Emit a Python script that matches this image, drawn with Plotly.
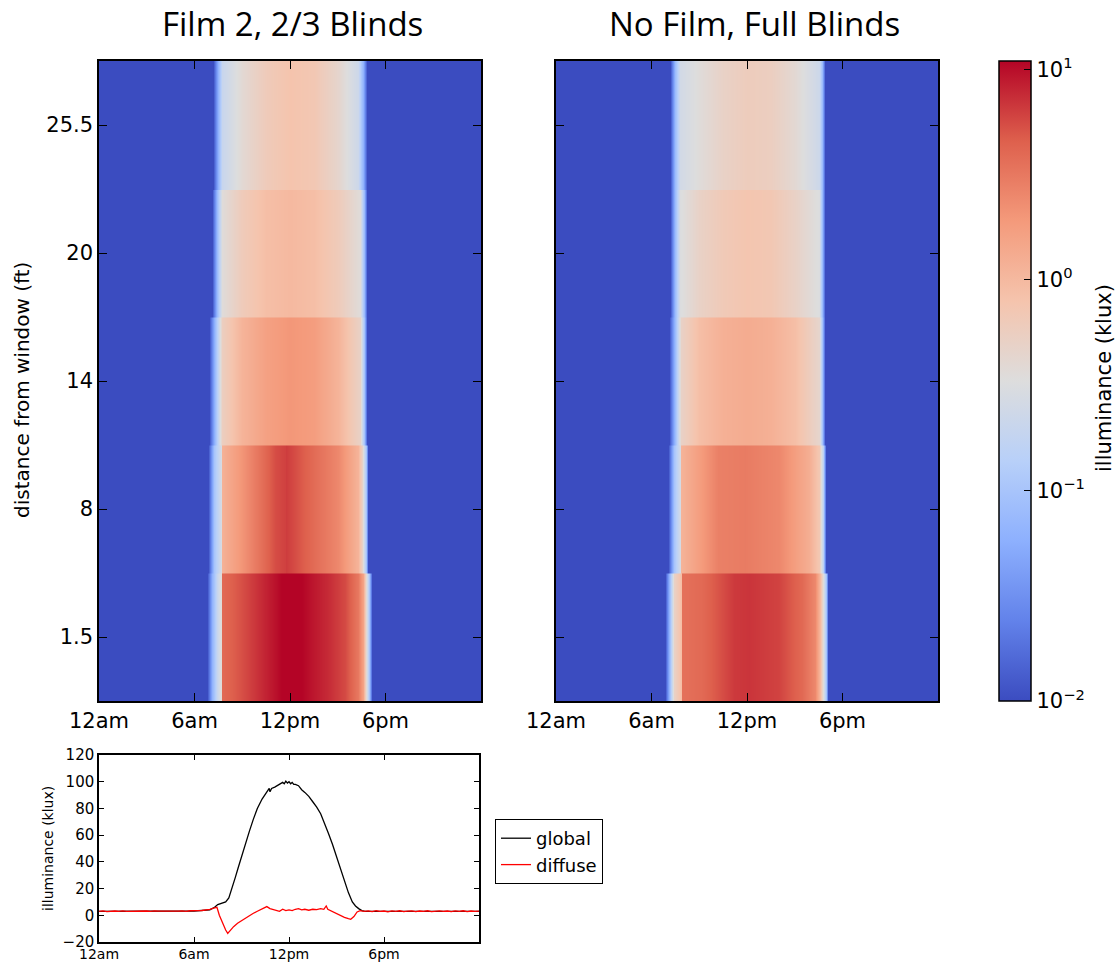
import plotly.graph_objects as go

# ---------------- data ----------------
hour_ticks = [0, 6, 12, 18]
hour_labels = ["12am", "6am", "12pm", "6pm"]
distance_labels = ["1.5", "8", "14", "20", "25.5"]   # bottom -> top

# heatmap rows: time (h) and log10(illuminance in klux)
film_r1_t = [0, 6.76, 7.1, 7.4, 7.66, 7.7, 8.55, 10.2, 11.2, 11.9, 12.6, 13.4, 14.4, 15.45, 16.3, 16.6, 16.8, 16.95, 17.13, 24]
film_r1_v = [-2, -2, -1.2, -0.7, -0.45, 0.6, 0.68, 0.88, 1.0, 1.1, 1.05, 0.97, 0.88, 0.75, 0.5, 0.2, -0.4, -1.0, -2, -2]
film_r2_t = [0, 6.83, 7.2, 7.66, 7.7, 9.2, 11.05, 11.715, 11.73, 11.745, 13.4, 15.0, 16.3, 16.55, 16.75, 16.92, 24]
film_r2_v = [-2, -2, -1.0, -0.55, 0.07, 0.35, 0.74, 0.79, 0.86, 0.81, 0.6, 0.4, 0.05, -0.3, -1.0, -2, -2]
film_r3_t = [0, 6.9, 7.3, 7.7, 9.0, 10.5, 12.0, 13.5, 15.0, 16.4, 16.65, 16.85, 24]
film_r3_v = [-2, -2, -1.1, -0.25, 0.05, 0.22, 0.3, 0.25, 0.05, -0.3, -1.0, -2, -2]
film_r4_t = [0, 7.07, 7.4, 7.7, 9.0, 10.5, 12.0, 13.5, 15.0, 16.4, 16.65, 16.85, 24]
film_r4_v = [-2, -2, -1.1, -0.45, -0.2, -0.05, 0.0, -0.05, -0.2, -0.45, -1.1, -2, -2]
film_r5_t = [0, 7.18, 7.45, 7.7, 9.0, 10.5, 12.0, 13.5, 15.0, 16.3, 16.6, 16.85, 24]
film_r5_v = [-2, -2, -1.2, -0.7, -0.4, -0.2, -0.1, -0.15, -0.35, -0.65, -1.2, -2, -2]

nofilm_r1_t = [0, 6.86, 7.1, 7.4, 7.85, 7.9, 9.15, 11.2, 12.1, 14.0, 15.45, 16.3, 16.6, 16.8, 16.95, 17.1, 24]
nofilm_r1_v = [-2, -2, -1.2, -0.3, -0.05, 0.55, 0.6, 0.82, 0.84, 0.78, 0.6, 0.4, 0.0, -0.45, -1.0, -2, -2]
nofilm_r2_t = [0, 7.05, 7.4, 7.83, 7.87, 10.2, 11.9, 14.0, 15.9, 16.5, 16.75, 16.96, 24]
nofilm_r2_v = [-2, -2, -1.0, -0.5, 0.05, 0.45, 0.48, 0.4, 0.1, -0.15, -0.8, -2, -2]
nofilm_r3_t = [0, 7.08, 7.45, 7.85, 9.0, 10.5, 12.0, 13.5, 15.0, 16.5, 16.7, 16.9, 24]
nofilm_r3_v = [-2, -2, -1.1, -0.3, -0.05, 0.08, 0.12, 0.08, -0.05, -0.35, -1.0, -2, -2]
nofilm_r4_t = [0, 7.18, 7.5, 7.8, 9.0, 10.5, 12.0, 13.5, 15.0, 16.5, 16.7, 16.9, 24]
nofilm_r4_v = [-2, -2, -1.1, -0.5, -0.3, -0.18, -0.12, -0.15, -0.3, -0.5, -1.1, -2, -2]
nofilm_r5_t = [0, 7.18, 7.5, 7.8, 9.0, 10.5, 12.0, 13.5, 15.0, 16.5, 16.7, 16.9, 24]
nofilm_r5_v = [-2, -2, -1.1, -0.6, -0.45, -0.3, -0.22, -0.25, -0.4, -0.65, -1.1, -2, -2]

# outdoor illuminance (klux)
global_t = [0, 1, 2, 3, 4, 5, 6, 7, 7.3, 7.5, 7.7, 8.0, 8.2, 8.4, 8.6, 8.8, 9.0, 9.25, 9.5, 9.75,
            10.0, 10.3, 10.5, 10.7, 10.75, 10.8, 10.9, 11.1, 11.35, 11.5, 11.6, 11.7, 11.8, 11.9,
            12.0, 12.1, 12.2, 12.3, 12.4, 12.6, 12.8,
            13.0, 13.25, 13.5, 13.75, 14.0, 14.25, 14.5, 14.75, 15.0, 15.25, 15.5, 15.75, 16.0, 16.2,
            16.4, 16.6, 16.8, 17, 18, 19, 20, 21, 22, 23, 24]
global_v = [3, 3, 3, 3, 3, 3, 3.2, 4, 6, 8, 9, 10, 13, 20, 28, 36, 44, 54, 63, 72,
            80, 87, 91, 94, 95, 92.5, 95, 96, 97.5, 98.5, 99.5, 98.5, 100.5, 99,
            100, 98.5, 99.5, 98, 98, 97, 94,
            92, 89, 85, 81, 76, 69, 61, 53, 44, 35, 26, 17, 10, 7,
            5, 3.5, 3, 3, 3, 3, 3, 3, 3, 3, 3]
diffuse_t = [0, 0.25, 0.5, 0.75, 1, 1.25, 1.5, 1.75, 2, 2.25, 2.5, 2.75, 3, 3.25, 3.5, 3.75, 4, 4.25,
             4.5, 4.75, 5, 5.25, 5.5, 5.75, 6, 6.25, 6.5, 6.75, 7.0, 7.3, 7.45, 7.6, 7.8, 8.0, 8.13,
             8.3, 8.5, 8.75, 9.0, 9.25, 9.5, 9.75, 10.0, 10.25, 10.5, 10.6, 10.8, 11.0, 11.2, 11.4,
             11.6, 11.8, 12.0, 12.2, 12.4, 12.6, 12.8, 13.0, 13.25, 13.5, 13.75, 14.0, 14.2, 14.35,
             14.45, 14.7, 15.0, 15.25, 15.5, 15.75, 15.9, 16.1, 16.3, 16.5, 16.75, 17, 17.25, 17.5,
             17.75, 18, 18.25, 18.5, 18.75, 19, 19.25, 19.5, 19.75, 20, 20.25, 20.5, 20.75, 21,
             21.25, 21.5, 21.75, 22, 22.25, 22.5, 22.75, 23, 23.25, 23.5, 23.75, 24]
diffuse_v = [3.0, 3.3, 2.8, 3.1, 3.2, 2.9, 3.3, 3.0, 3.1, 2.8, 3.4, 3.0, 3.2, 2.9, 3.3, 3.1, 3.0, 3.4,
             2.9, 3.2, 3.1, 3.3, 2.9, 3.4, 3.2, 3.5, 3.6, 4.0, 4.5, 5.5, 6.0, 0, -6, -11, -13.5,
             -11, -8.5, -6, -4, -2.5, -0.5, 1.5, 3, 4.5, 5.5, 6.5, 5, 4.5, 3.5, 3,
             4.5, 3.5, 4, 3.5, 4.5, 5, 4, 4.5, 3.8, 4.5, 4.2, 5, 4.5, 7,
             4.5, 3, 1, 0, -1.5, -2.5, -3, -1, 2.5, 3.5, 3.0, 3.3, 2.7, 3.4,
             2.9, 3.2, 2.6, 3.3, 3.0, 3.4, 2.8, 3.1, 3.3, 2.7, 3.2, 3.0, 3.4, 2.8,
             3.1, 3.3, 2.9, 3.2, 2.7, 3.3, 3.0, 3.4, 2.8, 3.2, 3.0, 3.1]

# ---------------- figure ----------------
W, H = 1118, 964
def px(x): return x / W
def py(y): return 1 - y / H

coolwarm = [
    [0.0, "rgb(59,76,192)"], [0.125, "rgb(98,130,234)"], [0.25, "rgb(141,176,254)"],
    [0.375, "rgb(184,208,249)"], [0.5, "rgb(221,221,221)"], [0.625, "rgb(245,196,173)"],
    [0.75, "rgb(244,154,123)"], [0.875, "rgb(222,96,77)"], [1.0, "rgb(180,4,38)"],
]

fig = go.Figure()

panels = [
    ("x", "y", [(film_r1_t, film_r1_v), (film_r2_t, film_r2_v), (film_r3_t, film_r3_v),
                (film_r4_t, film_r4_v), (film_r5_t, film_r5_v)]),
    ("x2", "y2", [(nofilm_r1_t, nofilm_r1_v), (nofilm_r2_t, nofilm_r2_v), (nofilm_r3_t, nofilm_r3_v),
                  (nofilm_r4_t, nofilm_r4_v), (nofilm_r5_t, nofilm_r5_v)]),
]
for xa, ya, rows in panels:
    for i, (t, v) in enumerate(rows):
        fig.add_trace(go.Heatmap(
            x=t, y=[i - 0.252, i + 0.252], z=[v, v], zsmooth="best",
            coloraxis="coloraxis", xaxis=xa, yaxis=ya, hoverinfo="skip", showlegend=False))

fig.add_trace(go.Scatter(x=global_t, y=global_v, mode="lines", name="global",
                         line=dict(color="black", width=1.3), xaxis="x3", yaxis="y3"))
fig.add_trace(go.Scatter(x=diffuse_t, y=diffuse_v, mode="lines", name="diffuse",
                         line=dict(color="red", width=1.3), xaxis="x3", yaxis="y3"))

tickfont = dict(family="DejaVu Sans", size=21, color="black")
common_ax = dict(showline=True, linecolor="black", linewidth=1.5, mirror="allticks",
                 ticks="inside", ticklen=8, tickcolor="black", tickwidth=1,
                 showgrid=False, zeroline=False, automargin=False)

hm_y = [py(701), py(61)]
fig.update_layout(
    width=W, height=H, margin=dict(l=0, r=0, t=0, b=0, autoexpand=False),
    paper_bgcolor="white", plot_bgcolor="white",
    coloraxis=dict(
        colorscale=coolwarm, cmin=-2, cmax=1.04,
        colorbar=dict(
            x=px(999), xanchor="left", y=py(701), yanchor="bottom", xpad=0, ypad=0,
            len=(701 - 61) / H, lenmode="fraction", thickness=32, thicknessmode="pixels",
            outlinecolor="black", outlinewidth=1.5,
            tickvals=[-2, -1, 0, 1],
            ticktext=["10<sup>−2</sup>", "10<sup>−1</sup>", "10<sup>0</sup>", "10<sup>1</sup>"],
            ticks="inside", ticklen=7, tickcolor="black",
            tickfont=dict(family="DejaVu Sans", size=21, color="black"),
        ),
    ),
    xaxis=dict(domain=[px(99), px(481)], range=[0, 24], tickvals=hour_ticks, ticktext=hour_labels,
               tickfont=tickfont, anchor="y", **common_ax),
    yaxis=dict(domain=hm_y, range=[-0.5, 4.5], tickvals=[0, 1, 2, 3, 4], ticktext=distance_labels,
               tickfont=tickfont, anchor="x", **common_ax),
    xaxis2=dict(domain=[px(556), px(938)], range=[0, 24], tickvals=hour_ticks, ticktext=hour_labels,
                tickfont=tickfont, anchor="y2", **common_ax),
    yaxis2=dict(domain=hm_y, range=[-0.5, 4.5], tickvals=[0, 1, 2, 3, 4], showticklabels=False,
                anchor="x2", **common_ax),
    xaxis3=dict(domain=[px(99), px(479)], range=[0, 24], tickvals=hour_ticks, ticktext=hour_labels,
                tickfont=dict(family="DejaVu Sans", size=14, color="black"), anchor="y3",
                ticklabelstandoff=-2, **{**common_ax, "ticklen": 5}),
    yaxis3=dict(domain=[py(942), py(755)], range=[-20, 120], dtick=20,
                tickfont=dict(family="DejaVu Sans", size=15, color="black"), anchor="x3",
                **{**common_ax, "ticklen": 5}),
    showlegend=True,
    legend=dict(x=px(495), y=py(819), xanchor="left", yanchor="top",
                bordercolor="black", borderwidth=1, bgcolor="white",
                font=dict(family="DejaVu Sans", size=18, color="black"),
                tracegroupgap=0),
    annotations=[
        dict(text="Film 2, 2/3 Blinds", x=px(292), y=py(23), xref="paper", yref="paper",
             xanchor="center", yanchor="middle",
             showarrow=False, font=dict(family="Open Sans", size=33, color="black")),
        dict(text="No Film, Full Blinds", x=px(754), y=py(23), xref="paper", yref="paper",
             xanchor="center", yanchor="middle",
             showarrow=False, font=dict(family="Open Sans", size=33, color="black")),
        dict(text="distance from window (ft)", x=px(22), y=py(390), xref="paper", yref="paper",
             xanchor="center", yanchor="middle",
             showarrow=False, textangle=-90, font=dict(family="DejaVu Sans", size=20, color="black")),
        dict(text="illuminance (klux)", x=px(1104), y=py(378), xref="paper", yref="paper",
             xanchor="center", yanchor="middle",
             showarrow=False, textangle=-90, font=dict(family="DejaVu Sans", size=21, color="black")),
        dict(text="illuminance (klux)", x=px(48), y=py(848), xref="paper", yref="paper",
             xanchor="center", yanchor="middle",
             showarrow=False, textangle=-90, font=dict(family="DejaVu Sans", size=14, color="black")),
    ],
)

fig.write_html("out.html")
